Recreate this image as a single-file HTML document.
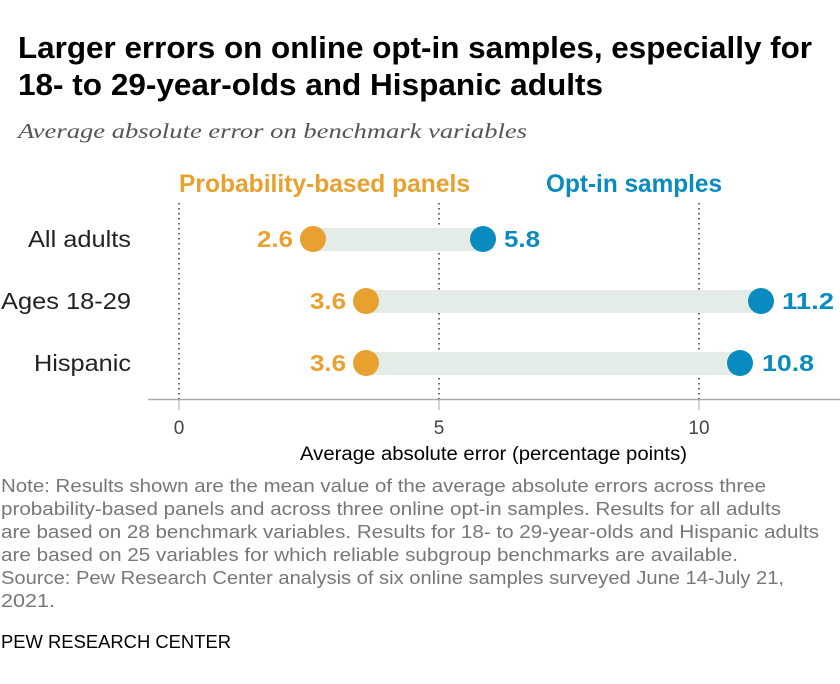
<!DOCTYPE html>
<html><head><meta charset="utf-8"><style>
body{margin:0;background:#fff;width:840px;height:684px;overflow:hidden}
</style></head><body>
<svg width="840" height="684" style="position:absolute;left:0;top:0" font-family="Liberation Sans, sans-serif">
<g lengthAdjust="spacingAndGlyphs">
<text x="18" y="58" font-size="31" font-weight="bold" fill="#000" textLength="794" lengthAdjust="spacingAndGlyphs">Larger errors on online opt-in samples, especially for</text>
<text x="18" y="95" font-size="31" font-weight="bold" fill="#000" textLength="585" lengthAdjust="spacingAndGlyphs">18- to 29-year-olds and Hispanic adults</text>
<text x="18" y="138" font-size="21" font-style="italic" font-family="Liberation Serif, serif" fill="#555" textLength="509" lengthAdjust="spacingAndGlyphs">Average absolute error on benchmark variables</text>
</g>
<g stroke="#333" stroke-width="1.5" stroke-dasharray="1.5,3.5">
<line x1="179" y1="203" x2="179" y2="399"/><line x1="439" y1="203" x2="439" y2="399"/><line x1="699" y1="203" x2="699" y2="399"/></g>
<line x1="148" y1="399.5" x2="840" y2="399.5" stroke="#aaa" stroke-width="1.5"/>
<g stroke="#aaa" stroke-width="1"><line x1="179" y1="400" x2="179" y2="410"/><line x1="439" y1="400" x2="439" y2="410"/><line x1="699" y1="400" x2="699" y2="410"/></g>
<g font-size="19" fill="#444" text-anchor="middle"><text x="179" y="434">0</text><text x="439" y="434">5</text><text x="699" y="434">10</text></g>
<text x="300" y="460" font-size="19" fill="#000" textLength="387" lengthAdjust="spacingAndGlyphs">Average absolute error (percentage points)</text>
<text x="179" y="192" font-size="25" font-weight="bold" fill="#e8a02f" textLength="291" lengthAdjust="spacingAndGlyphs">Probability-based panels</text>
<text x="546" y="192" font-size="25" font-weight="bold" fill="#0a8bbf" textLength="176" lengthAdjust="spacingAndGlyphs">Opt-in samples</text>
<g font-size="23" fill="#222">
<text x="28" y="247" textLength="103" lengthAdjust="spacingAndGlyphs">All adults</text>
<text x="1" y="309" textLength="130" lengthAdjust="spacingAndGlyphs">Ages 18-29</text>
<text x="34" y="371" textLength="97" lengthAdjust="spacingAndGlyphs">Hispanic</text></g>
<g fill="#e3ece6"><rect x="313" y="228" width="170" height="23"/><rect x="366" y="290" width="395" height="23"/><rect x="366" y="352" width="374" height="23"/></g>
<g fill="#e8a02f"><circle cx="313" cy="239" r="13"/><circle cx="366" cy="301" r="13"/><circle cx="366" cy="363" r="13"/></g>
<g fill="#0a8bbf"><circle cx="483" cy="239" r="13"/><circle cx="761" cy="301" r="13"/><circle cx="740" cy="363" r="13"/></g>
<g font-size="23" font-weight="bold" fill="#e8a02f">
<text x="257" y="247" textLength="36" lengthAdjust="spacingAndGlyphs">2.6</text>
<text x="310" y="309" textLength="36" lengthAdjust="spacingAndGlyphs">3.6</text>
<text x="310" y="371" textLength="36" lengthAdjust="spacingAndGlyphs">3.6</text></g>
<g font-size="23" font-weight="bold" fill="#0a8bbf">
<text x="504" y="247" textLength="36" lengthAdjust="spacingAndGlyphs">5.8</text>
<text x="782" y="309" textLength="52" lengthAdjust="spacingAndGlyphs">11.2</text>
<text x="762" y="371" textLength="52" lengthAdjust="spacingAndGlyphs">10.8</text></g>
<g font-size="18" fill="#777">
<text x="1" y="492" textLength="765" lengthAdjust="spacingAndGlyphs">Note: Results shown are the mean value of the average absolute errors across three</text>
<text x="1" y="515" textLength="780" lengthAdjust="spacingAndGlyphs">probability-based panels and across three online opt-in samples. Results for all adults</text>
<text x="1" y="538" textLength="818" lengthAdjust="spacingAndGlyphs">are based on 28 benchmark variables. Results for 18- to 29-year-olds and Hispanic adults</text>
<text x="1" y="561" textLength="737" lengthAdjust="spacingAndGlyphs">are based on 25 variables for which reliable subgroup benchmarks are available.</text>
<text x="1" y="584" textLength="783" lengthAdjust="spacingAndGlyphs">Source: Pew Research Center analysis of six online samples surveyed June 14-July 21,</text>
<text x="1" y="607" textLength="54" lengthAdjust="spacingAndGlyphs">2021.</text></g>
<text x="1" y="648" font-size="18" fill="#000" textLength="230" lengthAdjust="spacingAndGlyphs">PEW RESEARCH CENTER</text>
</svg>
</body></html>
